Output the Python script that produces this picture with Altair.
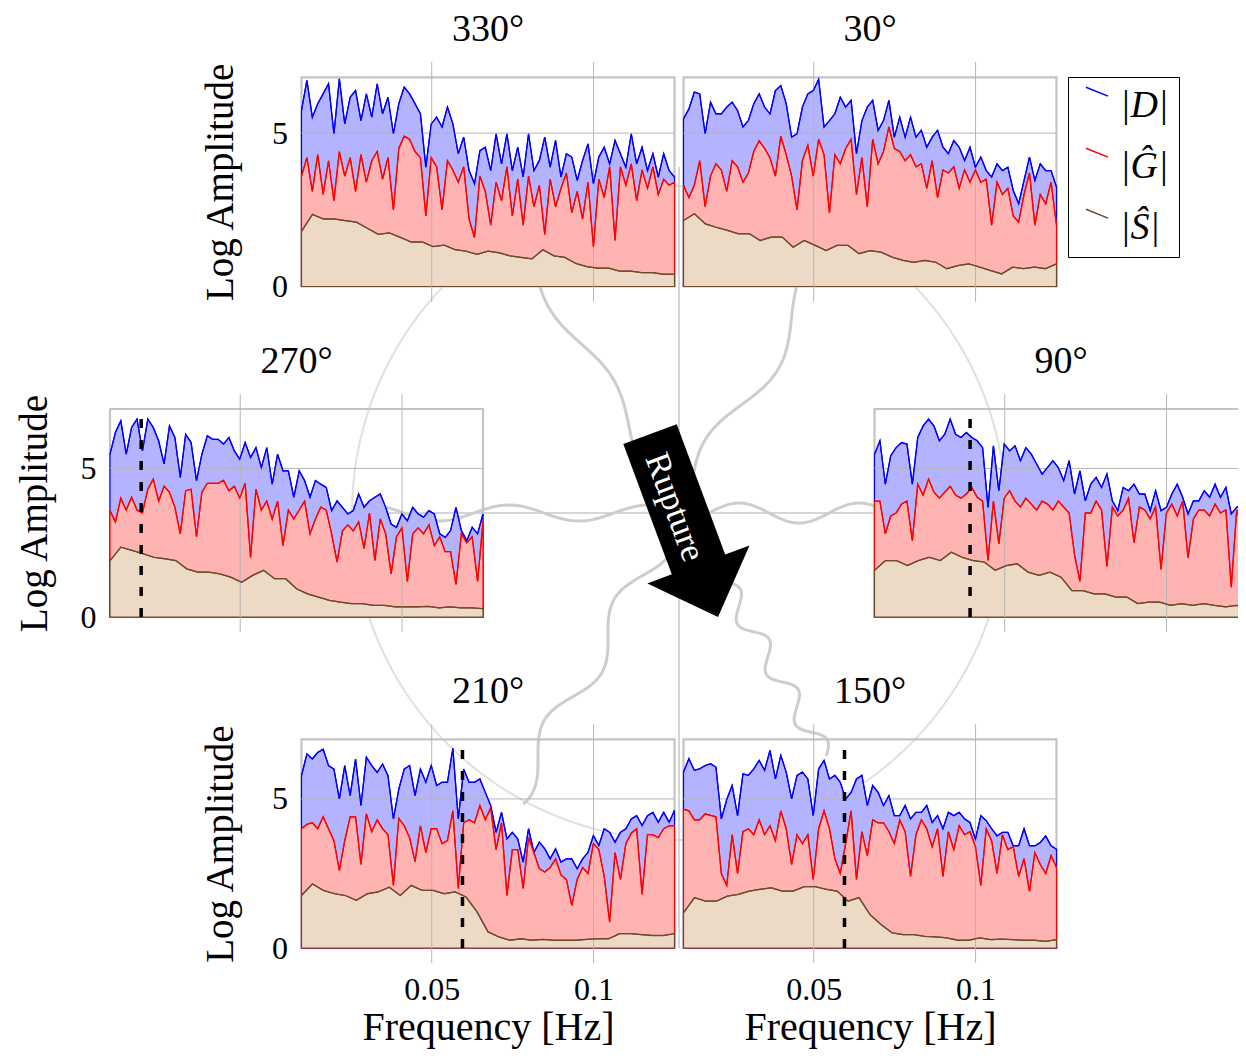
import numpy as np
import pandas as pd
import altair as alt

# ---------------- data ----------------
F_MIN, F_MAX = 0.00977, 0.125
freq_dg = np.linspace(F_MIN, F_MAX, 70)
freq_s = np.linspace(F_MIN, F_MAX, 35)

series_names = ["|D|", "|Ĝ|", "|Ŝ|"]
line_colors = ["#0000ff", "#ff0000", "#6e4b2a"]
fill_colors = ["#b3b3ff", "#ffb3b3", "#ecd9c6"]

panel_keys = ["330", "30", "270", "90", "210", "150"]
panel_titles = {"330": "330°", "30": "30°", "270": "270°", "90": "90°", "210": "210°", "150": "150°"}
rupture_freq = {"270": 0.0194, "90": 0.0393, "210": 0.0595, "150": 0.0595}
x_ticks = [0.05, 0.1]
y_ticks = [0, 5]

D_330 = [5.74, 6.72, 5.52, 5.96, 6.28, 6.61, 4.98, 6.77, 5.3, 6.17, 6.39, 5.41, 6.28, 5.52, 6.61, 5.63, 6.17, 4.98, 5.96, 6.5,
         6.28, 5.96, 5.63, 3.89, 5.3, 5.52, 5.2, 5.85, 5.3, 4.33, 4.87, 3.78, 3.35, 4.43, 4.54, 3.78, 4.98, 4.0, 4.98, 3.78,
         4.54, 3.57, 4.98, 3.78, 4.11, 4.87, 3.89, 4.76, 3.57, 4.33, 4.22, 3.46, 4.11, 4.65, 3.35, 4.22, 4.54, 4.0, 4.76, 4.33,
         3.89, 4.98, 4.0, 4.54, 3.78, 4.33, 3.57, 4.33, 3.78, 3.57]
G_330 = [3.6, 4.2, 3.1, 4.3, 3.0, 4.1, 2.8, 4.4, 3.6, 4.2, 3.1, 4.3, 3.4, 4.1, 4.4, 3.5, 4.2, 2.5, 4.5, 4.9,
         4.8, 4.4, 4.2, 2.3, 4.2, 3.9, 2.5, 4.1, 3.8, 3.4, 3.9, 2.2, 1.6, 3.6, 3.1, 2.0, 3.4, 2.8, 3.9, 2.3,
         3.5, 2.0, 3.6, 2.6, 3.3, 1.7, 3.5, 2.6, 3.2, 3.7, 2.4, 3.1, 2.2, 3.4, 1.3, 3.5, 2.9, 3.9, 1.5, 3.9,
         3.3, 4.0, 2.8, 3.8, 3.2, 3.9, 3.0, 3.5, 3.3, 3.4]
S_330 = [1.8, 2.35, 2.2, 2.2, 2.15, 2.1, 1.9, 1.7, 1.75, 1.6, 1.45, 1.45, 1.3, 1.35, 1.2, 1.15, 1.05, 1.15, 1.1, 1.0,
         0.95, 0.9, 1.2, 1.0, 0.95, 0.75, 0.65, 0.6, 0.6, 0.5, 0.5, 0.45, 0.45, 0.4, 0.4]

D_30 = [5.47, 5.79, 6.34, 6.28, 4.98, 6.01, 5.63, 5.63, 5.85, 6.01, 5.74, 5.2, 5.41, 5.96, 6.28, 5.85, 5.63, 6.39, 6.55, 5.96,
        4.87, 4.98, 5.85, 6.28, 6.39, 6.75, 5.2, 5.41, 5.63, 6.17, 5.85, 6.07, 4.33, 5.41, 5.85, 6.07, 5.09, 5.41, 6.07, 4.87,
        5.52, 4.87, 5.52, 4.87, 5.09, 4.54, 4.87, 5.09, 4.54, 4.33, 4.76, 4.54, 4.11, 4.54, 3.89, 4.22, 3.78, 3.57, 4.0, 3.78,
        3.89, 3.13, 2.7, 3.46, 4.22, 3.46, 4.0, 3.78, 3.78, 3.24]
G_30 = [3.3, 2.9, 3.3, 4.1, 2.6, 3.6, 4.0, 3.8, 3.1, 4.1, 3.9, 3.4, 3.7, 4.4, 4.75, 4.5, 4.2, 3.6, 4.9, 4.3,
        3.6, 2.5, 4.1, 4.6, 3.6, 4.8, 4.3, 2.4, 4.3, 4.0, 4.5, 4.8, 3.0, 4.2, 2.6, 4.8, 4.0, 4.4, 5.2, 4.5,
        4.4, 4.1, 4.3, 3.9, 4.0, 3.2, 4.1, 2.9, 3.8, 3.7, 3.9, 3.2, 3.8, 3.4, 3.8, 3.4, 3.5, 2.0, 3.4, 3.0,
        3.2, 2.3, 2.1, 3.0, 3.7, 2.0, 3.0, 2.7, 3.4, 2.0]
S_30 = [2.15, 2.37, 2.04, 1.93, 1.83, 1.72, 1.72, 1.5, 1.61, 1.61, 1.28, 1.5, 1.34, 1.17, 1.34, 1.34, 1.07, 1.17, 1.12, 0.96,
        0.85, 0.79, 0.85, 0.79, 0.58, 0.68, 0.74, 0.63, 0.52, 0.41, 0.63, 0.58, 0.63, 0.58, 0.74]

D_270 = [5.48, 6.21, 6.6, 5.48, 6.38, 6.66, 5.59, 6.66, 6.38, 5.93, 5.15, 6.43, 6.04, 4.7, 6.15, 5.87, 4.59, 5.48, 6.1, 5.98,
         5.98, 5.82, 6.04, 5.59, 5.31, 5.87, 5.37, 5.7, 5.03, 5.7, 4.47, 5.48, 4.92, 4.92, 4.03, 4.92, 4.59, 4.03, 4.59, 4.47,
         4.36, 3.58, 3.91, 3.69, 3.47, 3.58, 4.14, 3.69, 3.91, 4.03, 4.14, 3.69, 3.13, 3.02, 3.47, 3.24, 3.69, 3.47, 3.36, 3.58,
         3.47, 2.8, 2.68, 2.91, 3.69, 2.91, 2.57, 3.02, 2.8, 3.47]
G_270 = [3.58, 3.2, 4.0, 3.6, 4.03, 3.6, 3.5, 4.3, 4.64, 3.9, 4.4, 4.2, 3.7, 2.8, 4.25, 4.3, 2.7, 4.2, 4.5, 4.5,
         4.5, 4.6, 4.25, 4.4, 4.0, 4.5, 2.0, 4.3, 3.6, 3.9, 3.3, 3.9, 2.4, 3.6, 3.3, 3.6, 3.9, 2.8, 3.3, 3.7,
         3.6, 2.8, 1.85, 2.9, 3.1, 2.9, 3.2, 2.3, 3.5, 1.9, 3.3, 2.8, 1.45, 2.7, 3.0, 1.2, 2.8, 3.0, 2.8, 3.1,
         2.4, 2.7, 2.2, 2.2, 1.1, 2.8, 2.5, 2.7, 1.2, 3.2]
S_270 = [1.9, 2.35, 2.24, 2.13, 2.01, 1.96, 1.9, 1.62, 1.51, 1.51, 1.45, 1.34, 1.17, 1.4, 1.57, 1.29, 1.29, 0.95, 0.78, 0.67,
         0.56, 0.5, 0.45, 0.45, 0.39, 0.39, 0.34, 0.34, 0.34, 0.36, 0.31, 0.34, 0.31, 0.31, 0.28]

D_90 = [5.48, 5.93, 4.47, 5.43, 5.7, 5.87, 5.82, 4.47, 6.04, 6.43, 6.66, 6.43, 5.93, 6.15, 6.66, 6.15, 6.04, 6.21, 6.04, 5.93,
        5.7, 3.69, 5.76, 4.25, 5.82, 5.59, 5.76, 5.26, 5.7, 5.48, 5.15, 4.81, 5.03, 5.26, 5.03, 4.59, 5.26, 4.14, 4.92, 3.91,
        4.47, 4.7, 4.36, 4.81, 3.91, 3.58, 4.36, 4.25, 4.47, 4.14, 4.14, 3.58, 4.25, 3.58, 3.69, 4.14, 4.47, 4.03, 3.47, 3.91,
        3.91, 4.25, 4.03, 4.47, 4.03, 4.36, 3.47, 3.69, 3.8, 3.58]
G_90 = [3.9, 3.9, 2.8, 3.4, 3.5, 3.8, 3.9, 2.57, 4.47, 4.1, 4.64, 4.2, 4.0, 4.2, 4.4, 4.1, 4.0, 4.14, 4.36, 4.03,
        3.9, 1.9, 3.9, 2.46, 4.0, 4.25, 3.9, 3.7, 4.0, 3.8, 3.6, 3.9, 3.8, 3.6, 3.9, 3.7, 3.5, 2.1, 1.2, 3.5,
        3.5, 3.9, 3.6, 1.7, 3.7, 3.4, 3.6, 4.0, 2.5, 3.7, 3.6, 3.3, 3.7, 1.6, 3.5, 3.8, 3.4, 3.9, 2.0, 3.3,
        3.6, 3.6, 3.4, 3.8, 3.5, 3.6, 1.0, 3.6, 3.0, 2.3]
S_90 = [1.57, 1.9, 1.9, 1.73, 1.9, 2.01, 1.9, 2.18, 2.01, 1.9, 1.85, 1.57, 1.73, 1.79, 1.51, 1.4, 1.51, 1.34, 0.89, 0.89,
        0.78, 0.78, 0.67, 0.67, 0.45, 0.5, 0.5, 0.39, 0.45, 0.39, 0.45, 0.39, 0.34, 0.39, 0.34]

D_210 = [5.78, 6.51, 6.34, 6.56, 6.67, 6.12, 6.0, 5.0, 6.12, 5.11, 6.34, 4.78, 6.4, 6.12, 5.89, 6.17, 5.78, 4.33, 5.33, 6.0,
         6.12, 5.11, 6.0, 5.56, 6.12, 5.45, 5.56, 5.56, 6.7, 4.33, 6.0, 5.56, 5.56, 5.67, 5.22, 4.78, 3.88, 4.55, 3.66, 3.88,
         3.66, 2.88, 4.0, 3.21, 3.55, 3.33, 2.99, 3.33, 2.88, 2.99, 2.99, 2.66, 2.99, 3.21, 3.77, 3.44, 4.0, 3.88, 3.55, 3.88,
         4.0, 4.33, 4.44, 4.11, 4.44, 4.55, 4.22, 4.55, 4.22, 4.61]
G_210 = [4.0, 4.15, 4.2, 4.0, 4.4, 4.0, 3.6, 2.6, 3.6, 4.4, 4.4, 2.8, 4.5, 3.9, 4.3, 4.0, 3.8, 2.1, 4.35, 4.1,
         3.7, 2.9, 4.1, 3.2, 4.0, 4.0, 3.5, 3.6, 4.6, 2.0, 4.2, 4.3, 4.2, 4.78, 4.3, 4.7, 3.3, 4.2, 1.76, 3.3,
         3.3, 2.0, 3.7, 3.2, 2.66, 2.55, 2.7, 2.99, 2.45, 2.3, 1.43, 2.3, 2.7, 2.5, 3.5, 3.3, 2.4, 0.87, 3.2, 2.3,
         3.5, 3.85, 4.0, 1.8, 3.8, 3.8, 3.7, 4.0, 4.1, 4.1]
S_210 = [1.76, 2.15, 1.93, 1.82, 1.76, 1.6, 1.82, 1.88, 2.04, 1.76, 2.1, 1.93, 1.93, 1.82, 1.88, 1.71, 1.21, 0.54, 0.37, 0.26,
         0.31, 0.26, 0.29, 0.26, 0.26, 0.26, 0.29, 0.31, 0.31, 0.48, 0.48, 0.45, 0.42, 0.42, 0.48]

D_150 = [5.9, 6.35, 5.96, 6.01, 6.12, 6.18, 6.07, 4.33, 4.98, 5.45, 4.44, 5.84, 5.79, 6.01, 6.29, 5.96, 6.63, 5.67, 6.46, 5.9,
         5.0, 5.79, 5.9, 5.67, 4.44, 6.01, 6.29, 5.67, 5.79, 5.56, 5.0, 5.22, 5.67, 5.79, 4.78, 5.45, 5.22, 4.78, 5.11, 4.44,
         4.44, 4.78, 4.33, 4.55, 4.55, 4.78, 4.21, 4.44, 4.0, 4.55, 4.44, 4.55, 4.33, 4.21, 3.65, 4.44, 4.27, 4.0, 3.76, 3.88,
         3.88, 3.43, 3.43, 4.0, 3.43, 3.43, 3.54, 3.76, 3.43, 3.31]
G_150 = [4.66, 4.6, 4.3, 4.3, 4.5, 4.45, 4.4, 2.5, 2.1, 3.8, 2.5, 3.9, 4.0, 3.8, 4.3, 3.8, 4.1, 3.6, 4.6, 4.0,
         2.8, 3.8, 3.5, 3.8, 2.3, 4.0, 4.6, 4.0, 3.0, 2.5, 3.5, 4.6, 2.3, 3.9, 3.1, 4.3, 4.2, 4.2, 3.9, 3.5,
         4.3, 3.9, 2.4, 3.8, 4.3, 4.0, 3.4, 4.0, 2.4, 3.9, 3.3, 4.1, 3.8, 3.9, 3.4, 2.1, 4.0, 3.6, 2.5, 3.8,
         3.3, 3.4, 2.4, 3.0, 1.9, 3.2, 2.8, 2.5, 3.1, 2.7]
S_150 = [1.18, 1.69, 1.57, 1.57, 1.74, 1.8, 1.91, 1.97, 2.02, 1.91, 1.91, 2.06, 2.06, 1.97, 1.91, 1.57, 1.69, 1.12, 0.79, 0.51,
         0.45, 0.45, 0.39, 0.37, 0.34, 0.26, 0.26, 0.34, 0.28, 0.3, 0.28, 0.26, 0.26, 0.22, 0.28]

panel_data = {
    "330": (D_330, G_330, S_330), "30": (D_30, G_30, S_30),
    "270": (D_270, G_270, S_270), "90": (D_90, G_90, S_90),
    "210": (D_210, G_210, S_210), "150": (D_150, G_150, S_150),
}

# ---------------- layout (page pixels) ----------------
PAGE = 8
PLOT_W, PLOT_H = 1230, 940
# x_left, x_right, y_of_zero, y_of_top, y_max
panel_box = {
    "330": (301.5, 674.5, 286.5, 77.3, 6.82),
    "30": (683.5, 1056.5, 286.5, 77.3, 6.82),
    "270": (110.0, 483.0, 617.0, 409.0, 7.0),
    "90": (874.5, 1247.5, 617.0, 409.0, 7.0),
    "210": (301.5, 674.5, 948.0, 739.3, 7.0),
    "150": (683.5, 1056.5, 948.0, 739.3, 7.0),
}
left_col = {"330", "270", "210"}
bottom_row = {"210", "150"}
ytitle_pad = {"330": 31, "270": 26, "210": 31}

FONT = "Liberation Serif"
FRAME = "#c4c4c4"
GRID = "#b5b5b5"

legend = alt.Legend(
    orient="none", legendX=1060, legendY=69, title=None,
    labelFont=FONT, labelFontStyle="italic", labelFontSize=38, labelColor="black",
    symbolType="M-1,-1.7L1,-0.9", symbolSize=484, symbolStrokeWidth=1.5,
    strokeColor="black", fillColor="white", padding=10, rowPadding=20, labelOffset=4,
)
color_enc = alt.Color("s:N", scale=alt.Scale(domain=series_names, range=line_colors), legend=legend)


def panel_chart(key):
    D, G, S = panel_data[key]
    x0, x1, yb, yt, ymax = panel_box[key]
    xs = alt.Scale(domain=[F_MIN, F_MAX], range=[x0 - PAGE, x1 - PAGE], nice=False, zero=False)
    ys = alt.Scale(domain=[0, ymax], range=[yb - PAGE, yt - PAGE], nice=False, zero=False)
    if key in bottom_row:
        xaxis = alt.Axis(orient="bottom", values=x_ticks, format="~g", grid=False, ticks=False, tickSize=0,
                         domain=False, labelFont=FONT, labelFontSize=32, labelColor="black", labelPadding=26,
                         title="Frequency [Hz]", titleFont=FONT, titleFontSize=40, titleFontWeight="normal",
                         titleColor="black", titlePadding=2)
    else:
        xaxis = None
    if key in left_col:
        yaxis = alt.Axis(orient="left", offset=-(x0 - PAGE), values=y_ticks, grid=False, ticks=False, tickSize=0,
                         domain=False, labelFont=FONT, labelFontSize=32, labelColor="black", labelPadding=14,
                         title="Log Amplitude", titleFont=FONT, titleFontSize=39, titleFontWeight="normal",
                         titleColor="black", titlePadding=ytitle_pad[key])
    else:
        yaxis = None

    def X(f):
        return alt.X(f"{f}:Q", scale=xs, axis=xaxis)

    def Y(f):
        return alt.Y(f"{f}:Q", scale=ys, axis=yaxis, stack=None)

    frame = alt.Chart(pd.DataFrame({"fx0": [F_MIN], "fx1": [F_MAX], "fy0": [0.0], "fy1": [ymax]})).mark_rect(
        filled=False, stroke=FRAME, strokeWidth=2.2, fillOpacity=0
    ).encode(x=X("fx0"), x2=alt.X2("fx1"), y=Y("fy0"), y2=alt.Y2("fy1"))

    areas = []
    for vals, fr, fc, lc in [(D, freq_dg, fill_colors[0], line_colors[0]),
                             (G, freq_dg, fill_colors[1], line_colors[1]),
                             (S, freq_s, fill_colors[2], line_colors[2])]:
        df = pd.DataFrame({"f": fr, "v": vals, "b": 0.0})
        areas.append(alt.Chart(df).mark_area(fill=fc, fillOpacity=1, stroke=lc, strokeWidth=1.2).encode(
            x=X("f"), y=Y("v"), y2=alt.Y2("b")))

    vgrid = alt.Chart(pd.DataFrame({"gx": x_ticks, "gy0": [-0.5] * 2, "gy1": [ymax + 0.5] * 2})).mark_rule(
        color=GRID, strokeWidth=1).encode(x=X("gx"), y=Y("gy0"), y2=alt.Y2("gy1"))
    hgrid = alt.Chart(pd.DataFrame({"hx0": [F_MIN], "hx1": [F_MAX], "hy": [5.0]})).mark_rule(
        color=GRID, strokeWidth=1).encode(x=X("hx0"), x2=alt.X2("hx1"), y=Y("hy"))

    long = pd.concat([
        pd.DataFrame({"f": freq_dg, "v": D, "s": series_names[0]}),
        pd.DataFrame({"f": freq_dg, "v": G, "s": series_names[1]}),
        pd.DataFrame({"f": freq_s, "v": S, "s": series_names[2]}),
    ])
    lines = alt.Chart(long).mark_line(strokeWidth=1.3).encode(x=X("f"), y=Y("v"), color=color_enc)

    layers = [frame] + areas + [vgrid, hgrid, lines]
    if key in rupture_freq:
        dash = alt.Chart(pd.DataFrame({"rf": [rupture_freq[key]], "r0": [0.0], "r1": [ymax]})).mark_rule(
            color="black", strokeWidth=3.5, strokeDash=[9, 12]).encode(x=X("rf"), y=Y("r0"), y2=alt.Y2("r1"))
        layers.append(dash)
    title = alt.Chart(pd.DataFrame({"tx": [(F_MIN + F_MAX) / 2], "ty": [ymax], "label": [panel_titles[key]]})).mark_text(
        dy=-47, font=FONT, fontSize=38, color="black", baseline="middle", align="center"
    ).encode(x=X("tx"), y=Y("ty"), text="label:N")
    layers.append(title)
    return alt.layer(*layers)


# ---------------- background decoration (page pixel coordinates) ----------------
CX, CY, R = 679.0, 513.0, 327.0
bgx = alt.Scale(domain=[PAGE, PAGE + PLOT_W], range=[0, PLOT_W], nice=False, zero=False)
bgy = alt.Scale(domain=[PAGE, PAGE + PLOT_H], range=[0, PLOT_H], nice=False, zero=False)


def BX(f):
    return alt.X(f"{f}:Q", scale=bgx, axis=None)


def BY(f):
    return alt.Y(f"{f}:Q", scale=bgy, axis=None)


ang = np.linspace(0, 2 * np.pi, 241)
circle_df = pd.DataFrame({"x": CX + R * np.cos(ang), "y": CY + R * np.sin(ang), "o": np.arange(len(ang))})
circle = alt.Chart(circle_df).mark_line(color="#e0e0e0", strokeWidth=2).encode(x=BX("x"), y=BY("y"), order="o:Q")

vline = alt.Chart(pd.DataFrame({"x": [CX], "y0": [167.0], "y1": [948.0]})).mark_rule(
    color="#c8c8c8", strokeWidth=1.5).encode(x=BX("x"), y=BY("y0"), y2=alt.Y2("y1"))
hline = alt.Chart(pd.DataFrame({"x0": [CX - R], "x1": [CX + R], "y": [CY]})).mark_rule(
    color="#c8c8c8", strokeWidth=1.5).encode(x=BX("x0"), x2=alt.X2("x1"), y=BY("y"))

# (azimuth, length, amplitude, wavelength, phase, mean offset)
wave_specs = [(330, 300, 10, 190, 100, 0), (30, 300, -14, 200, 25, 0), (270, 327, -8, 140, 65, 0),
              (90, 327, 10, 120, 90, 0), (210, 330, 13, 140, 72, 0), (150, 285, -10, 58, 140, -5)]
wave_rows = []
for az, L, A, lam, t0, mean in wave_specs:
    th = np.deg2rad(az)
    t = np.arange(0, L + 0.1, 2.0)
    off = mean + A * np.sin(2 * np.pi * (t - t0) / lam)
    xs_ = CX + t * np.sin(th) + off * np.cos(th)
    ys_ = CY - t * np.cos(th) + off * np.sin(th)
    wave_rows.append(pd.DataFrame({"x": xs_, "y": ys_, "o": t, "id": str(az)}))
waves = alt.Chart(pd.concat(wave_rows)).mark_line(color="#cdcdcd", strokeWidth=3).encode(
    x=BX("x"), y=BY("y"), order="o:Q", detail="id:N")

ARROW_PATH = "M-0.285,-0.975L0.285,-0.975L0.285,0.415L0.545,0.415L0,0.975L-0.545,0.415L-0.285,0.415Z"
arrow = alt.Chart(pd.DataFrame({"x": [684.0], "y": [525.5]})).mark_point(
    shape=ARROW_PATH, size=40000, angle=339.6, filled=True, fill="black", stroke="black", strokeWidth=0, opacity=1
).encode(x=BX("x"), y=BY("y"))
rupture = alt.Chart(pd.DataFrame({"x": [675.0], "y": [507.0], "t": ["Rupture"]})).mark_text(
    angle=69.6, color="white", font=FONT, fontSize=35, align="center", baseline="middle"
).encode(x=BX("x"), y=BY("y"), text="t:N")

background = alt.layer(circle, vline, hline, waves, arrow, rupture)

chart = alt.layer(background, *[panel_chart(k) for k in panel_keys]).resolve_scale(
    x="independent", y="independent"
).properties(
    width=PLOT_W, height=PLOT_H,
    autosize=alt.AutoSizeParams(type="none"),
    padding={"left": 0, "top": 0, "right": 0, "bottom": 103},
).configure_view(strokeWidth=0)

chart.save("out.html", embed_options={"renderer": "svg", "actions": False})
